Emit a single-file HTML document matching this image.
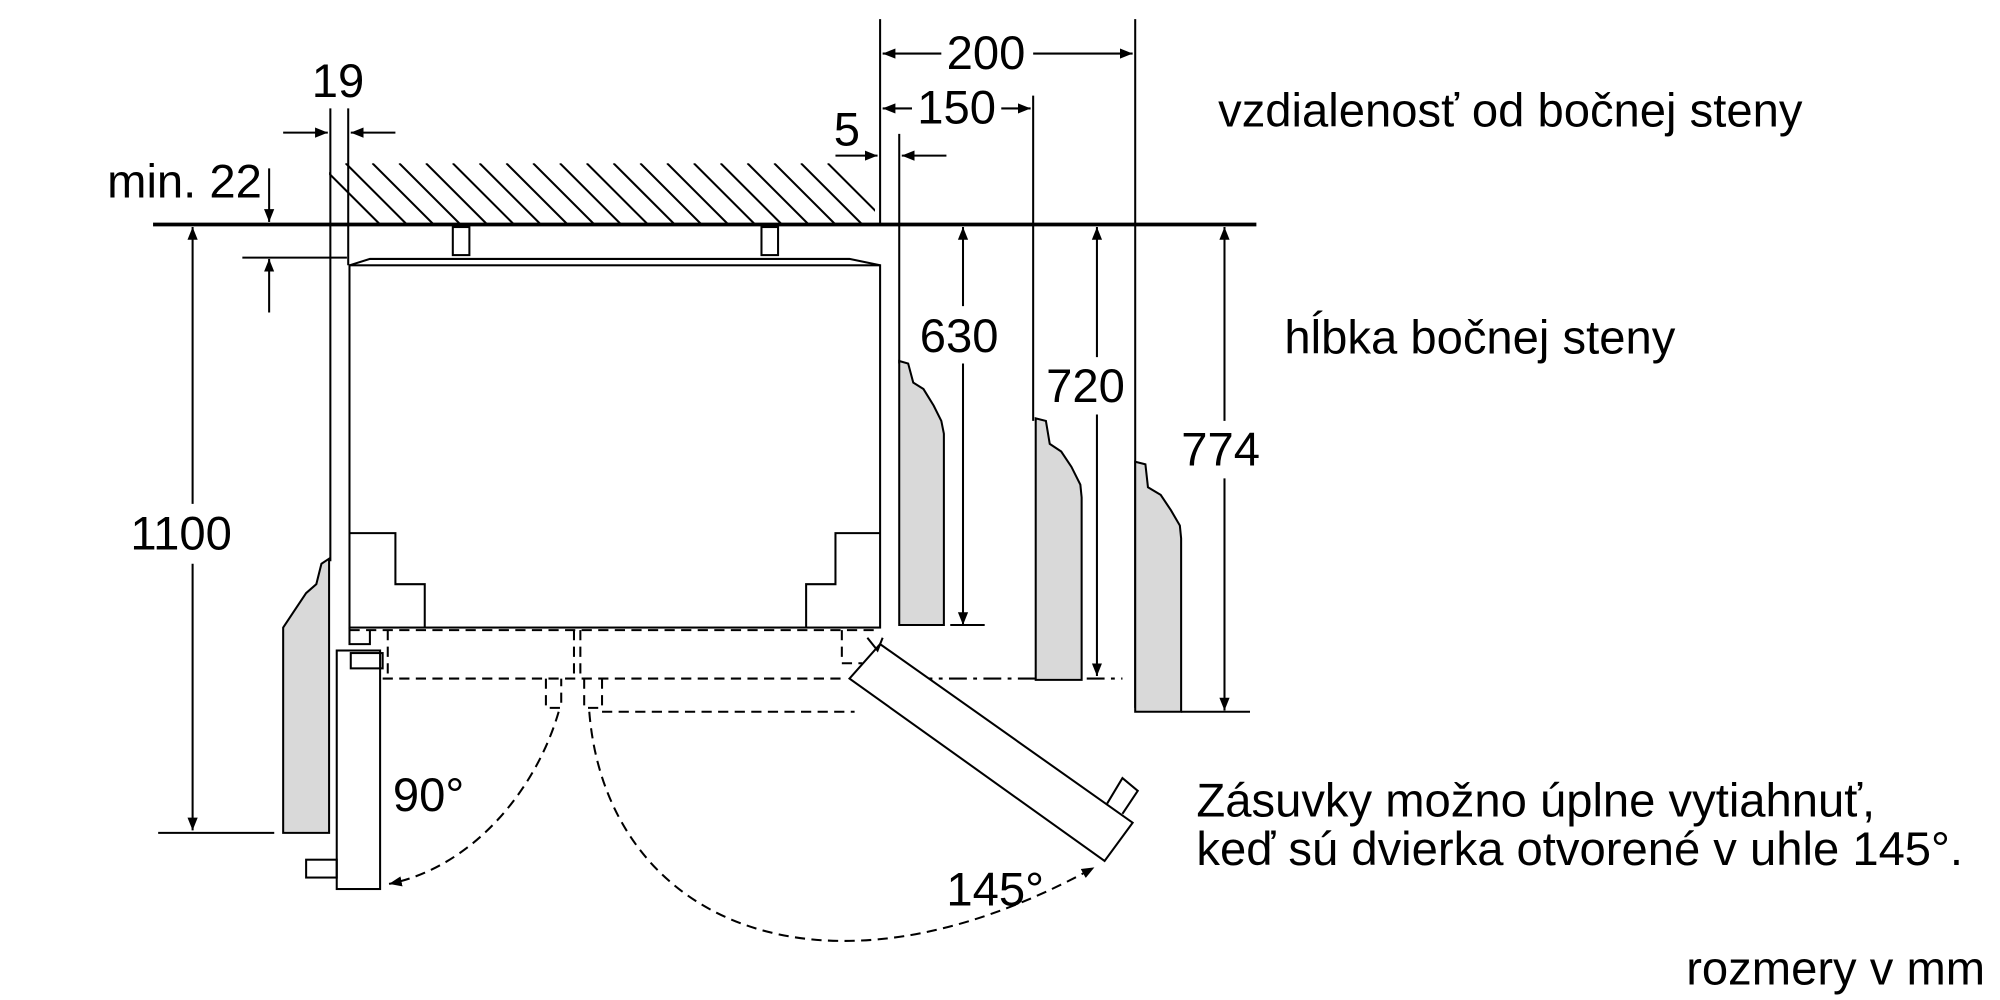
<!DOCTYPE html>
<html><head><meta charset="utf-8"><style>
html,body{margin:0;padding:0;background:#fff;}
svg{display:block;}
text{font-family:"Liberation Sans",sans-serif;fill:#000;}
</style></head><body>
<svg width="2000" height="1000" viewBox="0 0 1568 784" xmlns="http://www.w3.org/2000/svg">
<defs>
<marker id="a" viewBox="0 0 10 10" refX="10" refY="5" markerWidth="10" markerHeight="10" markerUnits="userSpaceOnUse" orient="auto"><path d="M0,1 L10,5 L0,9 z" fill="#000"/></marker>
<clipPath id="hc"><rect x="258" y="128" width="428" height="48"/></clipPath>
</defs>
<g stroke="#000" fill="none" stroke-width="1.6">
<g clip-path="url(#hc)">
<path d="M250,128 l48,48 M271,128 l48,48 M292,128 l48,48 M313,128 l48,48 M334,128 l48,48 M355,128 l48,48 M376,128 l48,48 M397,128 l48,48 M418,128 l48,48 M439,128 l48,48 M460,128 l48,48 M481,128 l48,48 M502,128 l48,48 M523,128 l48,48 M544,128 l48,48 M565,128 l48,48 M586,128 l48,48 M607,128 l48,48 M628,128 l48,48 M649,128 l48,48"/>
</g>
<line x1="120" y1="176" x2="985" y2="176" stroke-width="3"/>
<line x1="690" y1="15" x2="690" y2="176"/>
<line x1="890" y1="15" x2="890" y2="555"/>
<line x1="810" y1="75" x2="810" y2="330"/>
<line x1="705" y1="105" x2="705" y2="285"/>
<line x1="259" y1="85" x2="259" y2="440"/>
<line x1="273" y1="85" x2="273" y2="208"/>
<path d="M738,42 L692,42" marker-end="url(#a)"/>
<path d="M810,42 L888,42" marker-end="url(#a)"/>
<path d="M715,85 L692,85" marker-end="url(#a)"/>
<path d="M785,85 L808,85" marker-end="url(#a)"/>
<path d="M655,122 L688,122" marker-end="url(#a)"/>
<path d="M742,122 L707,122" marker-end="url(#a)"/>
<path d="M222,104 L257,104" marker-end="url(#a)"/>
<path d="M310,104 L275,104" marker-end="url(#a)"/>
<path d="M211,132 L211,174" marker-end="url(#a)"/>
<path d="M211,245 L211,203" marker-end="url(#a)"/>
<line x1="190" y1="202" x2="272" y2="202"/>
<path d="M151,395 L151,178" marker-end="url(#a)"/>
<path d="M151,442 L151,651" marker-end="url(#a)"/>
<line x1="124" y1="653" x2="215" y2="653"/>
<rect x="274" y="208" width="416" height="284"/>
<path d="M274,208 L290,203 L666,203 L690,208"/>
<rect x="355" y="178" width="13" height="22"/>
<rect x="597" y="178" width="13" height="22"/>
<path d="M274,418 L310,418 L310,458 L333,458 L333,492"/>
<path d="M690,418 L655,418 L655,458 L632,458 L632,492"/>
<g stroke-dasharray="8,5">
<path d="M274,494 L690,494"/>
<path d="M274,532 L662,532"/>
<path d="M304,494 L304,532 M450,494 L450,532 M455,494 L455,532"/>
<path d="M428,532 L428,555 L440,555 L440,532 M458,532 L458,555 L472,555 L472,532"/>
<path d="M472,558 L670,558"/>
<path d="M438,558 C420,620 370,680 305,693" marker-end="url(#a)"/>
<path d="M462,558 C475,720 640,800 858,680" marker-end="url(#a)"/>
<path d="M660,494 L660,520 L676,520"/>
</g>
<path d="M690,532 L880,532" stroke-dasharray="14,5,3,5"/>
<g fill="#d9d9d9">
<path d="M258,438 L252,442 L248,458 L240,465 L230,480 L222,492 L222,653 L258,653 Z"/>
<path d="M705,283 L712,285 L716,300 L724,305 L732,318 L738,330 L740,340 L740,490 L705,490 Z"/>
<path d="M812,328 L820,330 L823,348 L832,354 L840,366 L847,380 L848,390 L848,533 L812,533 Z"/>
<path d="M890,362 L898,364 L900,382 L910,388 L918,400 L925,412 L926,422 L926,558 L890,558 Z"/>
</g>
<path d="M755,240 L755,178" marker-end="url(#a)"/>
<path d="M755,285 L755,490" marker-end="url(#a)"/>
<line x1="745" y1="490" x2="772" y2="490"/>
<path d="M860,280 L860,178" marker-end="url(#a)"/>
<path d="M860,325 L860,530" marker-end="url(#a)"/>
<path d="M960,330 L960,178" marker-end="url(#a)"/>
<path d="M960,375 L960,557" marker-end="url(#a)"/>
<line x1="926" y1="558" x2="980" y2="558"/>
<rect x="264" y="510" width="34" height="187" fill="#fff"/>
<rect x="240" y="674" width="24" height="14"/>
<rect x="275" y="512" width="25" height="12"/>
<path d="M274,492 L274,505 L290,505 L290,494"/>
<path d="M690,505 L888,645 L866,675 L666,532 Z" fill="#fff"/>
<path d="M868,630 L880,610 L892,620 L880,638"/>
<path d="M680,500 L688,510 L692,500"/>
</g>
<g font-size="37">
<text x="773" y="54" text-anchor="middle">200</text>
<text x="750" y="97" text-anchor="middle">150</text>
<text x="664" y="114" text-anchor="middle">5</text>
<text x="265" y="76" text-anchor="middle">19</text>
<text x="84" y="155">min. 22</text>
<text x="142" y="431" text-anchor="middle">1100</text>
<text x="752" y="276" text-anchor="middle">630</text>
<text x="851" y="315" text-anchor="middle">720</text>
<text x="957" y="365" text-anchor="middle">774</text>
<text x="308" y="636">90°</text>
<text x="742" y="710">145°</text>
<text x="955" y="99">vzdialenosť od bočnej steny</text>
<text x="1007" y="277">hĺbka bočnej steny</text>
<text x="938" y="640">Zásuvky možno úplne vytiahnuť,</text>
<text x="938" y="678">keď sú dvierka otvorené v uhle 145°.</text>
<text x="1322" y="772">rozmery v mm</text>
</g>
</svg>
</body></html>
